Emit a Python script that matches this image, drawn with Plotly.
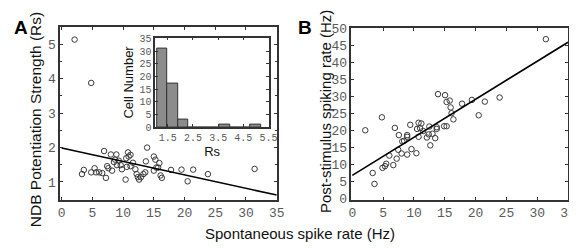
import plotly.graph_objects as go

# ---------- Panel A data: spontaneous rate vs NDB potentiation strength ----------
spont_a = [2.1, 3.3, 3.6, 4.8, 4.8, 5.35, 5.6, 6.1, 6.6, 6.9, 7.2, 7.4, 7.6, 8.0, 8.2,
           8.5, 8.7, 8.9, 9.0, 9.3, 9.6, 9.8, 10.4, 10.5, 10.6, 10.8, 10.9, 11.2, 11.2,
           11.6, 12.0, 12.2, 12.4, 12.6, 12.9, 13.3, 13.6, 13.7, 13.9, 15.0, 15.25, 15.0,
           15.4, 15.7, 15.9, 16.1, 16.3, 17.8, 19.5, 20.5, 21.4, 23.8, 31.4]
rs_a = [5.14, 1.23, 1.35, 3.88, 1.28, 1.40, 1.28, 1.28, 1.26, 1.90, 1.12, 1.46, 1.40, 1.80, 1.33,
        1.58, 1.65, 1.80, 1.49, 1.62, 1.49, 1.37, 1.07, 1.69, 1.44, 1.86, 1.74, 1.79, 1.46,
        1.56, 1.37, 1.23, 1.14, 1.07, 1.14, 1.23, 1.28, 1.60, 2.00, 1.74, 1.65, 1.33,
        1.42, 1.42, 1.55, 1.19, 1.12, 1.35, 1.36, 1.02, 1.36, 1.23, 1.38]
fit_a_x = [0, 35]
fit_a_y = [1.99, 0.62]

# ---------- Inset histogram of Rs ----------
hist_left_edges = [1.07, 1.483, 1.896, 2.309, 2.722, 3.135, 3.548, 3.961, 4.374, 4.787]
hist_counts = [31, 17, 3, 0, 0, 0, 1, 0, 0, 1]
hist_bin_width = 0.413

# ---------- Panel B data: spontaneous rate vs post-stimulus rate ----------
spont_b = [2.1, 3.3, 3.6, 4.8, 4.9, 5.3, 5.5, 6.0, 6.65, 6.9, 7.2, 7.45, 7.55, 8.0, 8.1,
           8.4, 8.9, 8.9, 8.9, 9.4, 9.6, 10.4, 10.5, 10.75, 10.75, 11.2, 11.0, 11.5, 12.1,
           12.4, 12.5, 12.65, 13.0, 13.45, 13.7, 13.7, 13.9, 14.9, 15.3, 15.05, 15.3, 15.8,
           15.95, 16.1, 16.4, 17.8, 19.4, 20.5, 21.5, 23.9, 31.4]
post_b = [20.1, 7.6, 4.4, 23.9, 9.1, 9.6, 10.3, 12.7, 9.9, 20.8, 11.8, 14.4, 18.7, 13.3, 16.85,
          17.0, 18.2, 18.7, 13.0, 21.7, 14.6, 13.4, 20.5, 18.2, 22.3, 22.1, 20.7, 19.9, 18.0,
          18.9, 21.2, 15.7, 19.1, 17.8, 20.5, 21.0, 30.7, 21.3, 21.3, 30.4, 28.4, 28.8,
          26.8, 25.1, 23.3, 27.9, 29.0, 24.5, 28.5, 29.7, 46.8]
fit_b_x = [0, 35]
fit_b_y = [6.9, 45.9]

W, H = 577, 248
def px(x0, x1): return [x0 / W, x1 / W]
def py(top, bottom): return [(H - bottom) / H, (H - top) / H]

frame = "#333333"
sans = "Liberation Sans, Arial"
tickfont = dict(family="Liberation Mono", size=13, color="#5a5a5a")
insetfont = dict(family="Liberation Mono", size=10, color="#5a5a5a")
marker = dict(symbol="circle-open", size=5.5, color="#3a3a3a", line=dict(width=1))

fig = go.Figure()
fig.add_trace(go.Scatter(x=spont_a, y=rs_a, mode="markers", marker=marker, xaxis="x", yaxis="y"))
fig.add_trace(go.Scatter(x=fit_a_x, y=fit_a_y, mode="lines", line=dict(color="black", width=1.6),
                         xaxis="x", yaxis="y"))
fig.add_trace(go.Bar(x=[e + hist_bin_width / 2 for e in hist_left_edges], y=hist_counts,
                     width=hist_bin_width, marker=dict(color="#8c8c8c", line=dict(color="#333", width=1)),
                     xaxis="x3", yaxis="y3"))
fig.add_trace(go.Scatter(x=spont_b, y=post_b, mode="markers", marker=marker, xaxis="x2", yaxis="y2"))
fig.add_trace(go.Scatter(x=fit_b_x, y=fit_b_y, mode="lines", line=dict(color="black", width=1.6),
                         xaxis="x2", yaxis="y2"))

common = dict(showline=True, linecolor=frame, linewidth=1.5, mirror="ticks", ticks="inside",
              ticklen=3, tickcolor=frame, showgrid=False, zeroline=False)

fig.update_layout(
    width=W, height=H, margin=dict(l=0, r=0, t=0, b=0),
    paper_bgcolor="white", plot_bgcolor="white", showlegend=False,
    xaxis=dict(domain=px(50, 271), range=[-0.27, 35.02], dtick=5, tick0=0, anchor="y",
               tickfont=tickfont, **common),
    yaxis=dict(domain=py(14, 197), range=[0.48, 5.5], dtick=1, tick0=1, anchor="x",
               minor=dict(dtick=0.5, tick0=0.5, ticks="inside", ticklen=2, tickcolor=frame),
               tickfont=tickfont, **common),
    xaxis2=dict(domain=px(347, 568), range=[-0.15, 35.02], dtick=5, tick0=0, anchor="y2",
                tickfont=tickfont, **common),
    yaxis2=dict(domain=py(15, 197), range=[-0.28, 50.02], dtick=5, tick0=0, anchor="x2",
                tickfont=tickfont, **common),
    xaxis3=dict(domain=px(147, 263), range=[1.0, 5.52], dtick=1, tick0=1.5, anchor="y3",
                title=dict(text="Rs", font=dict(family=sans, size=13, color="#111"), standoff=2),
                tickfont=insetfont, **common),
    yaxis3=dict(domain=py(25, 120), range=[0, 35.3], dtick=5, tick0=0, anchor="x3",
                title=dict(text="Cell Number", font=dict(family=sans, size=13, color="#111"), standoff=3),
                tickfont=insetfont, **common),
    bargap=0,
    annotations=[
        dict(text="<b>A</b>", x=1 / W, y=1 - 1 / H, xref="paper", yref="paper", xanchor="left", yanchor="top",
             showarrow=False, font=dict(family=sans, size=19, color="black")),
        dict(text="<b>B</b>", x=291 / W, y=1 - 1 / H, xref="paper", yref="paper", xanchor="left", yanchor="top",
             showarrow=False, font=dict(family=sans, size=19, color="black")),
        dict(text="NDB Potentiation Strength (Rs)", x=25 / W, y=1 - 112 / H, xref="paper", yref="paper",
             xanchor="center", yanchor="middle", textangle=-90, showarrow=False,
             font=dict(family=sans, size=15.5, color="#111")),
        dict(text="Post-stimulus spiking rate (Hz)", x=320 / W, y=1 - 103 / H, xref="paper", yref="paper",
             xanchor="center", yanchor="middle", textangle=-90, showarrow=False,
             font=dict(family=sans, size=15, color="#111")),
        dict(text="Spontaneous spike rate (Hz)", x=295 / W, y=1 - 233 / H, xref="paper", yref="paper",
             xanchor="center", yanchor="middle", showarrow=False,
             font=dict(family=sans, size=15, color="#111")),
    ],
)

fig.write_html("out.html")
